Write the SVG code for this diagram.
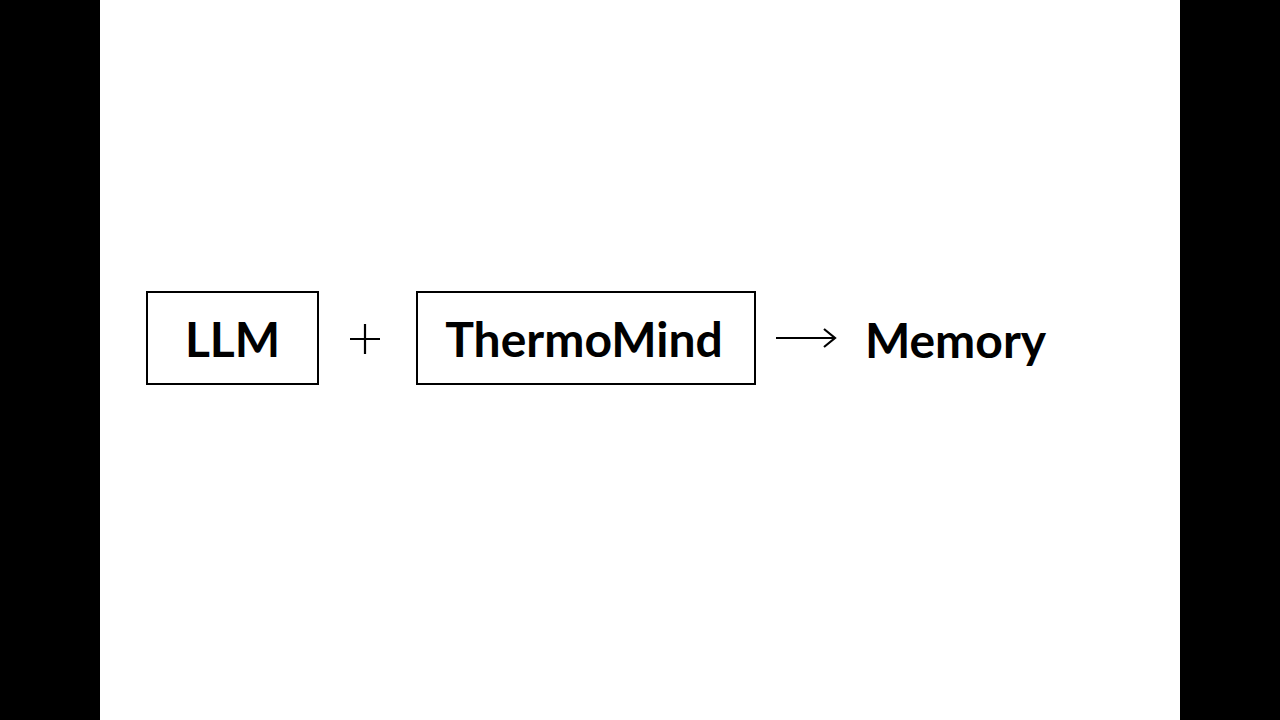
<svg xmlns="http://www.w3.org/2000/svg" width="1280" height="720" viewBox="0 0 1280 720">
<style>
.box{fill:#fff;stroke:#000;stroke-width:2}
.t{font-family:Lato,"Liberation Sans",sans-serif;font-weight:bold;font-size:48px;fill:#000;text-anchor:middle}
.ln{stroke:#000;stroke-width:2.2;fill:none}
</style>
<rect x="0" y="0" width="1280" height="720" fill="#000"/>
<rect x="100" y="0" width="1080" height="720" fill="#fff"/>
<g id="llm">
<rect class="box" x="147" y="292" width="171" height="92"/>
<text class="t" x="232.5" y="357">LLM</text>
</g>
<g id="plus">
<path class="ln" d="M350 339H380M365 324V354"/>
</g>
<g id="thermomind">
<rect class="box" x="417" y="292" width="338" height="92"/>
<text class="t" x="584" y="357">ThermoMind</text>
</g>
<g id="connectors">
<path class="ln" d="M776 338H834M824 329L835 338L824 347"/>
</g>
<g id="memory">
<text class="t" x="955.5" y="358">Memory</text>
</g>
</svg>
